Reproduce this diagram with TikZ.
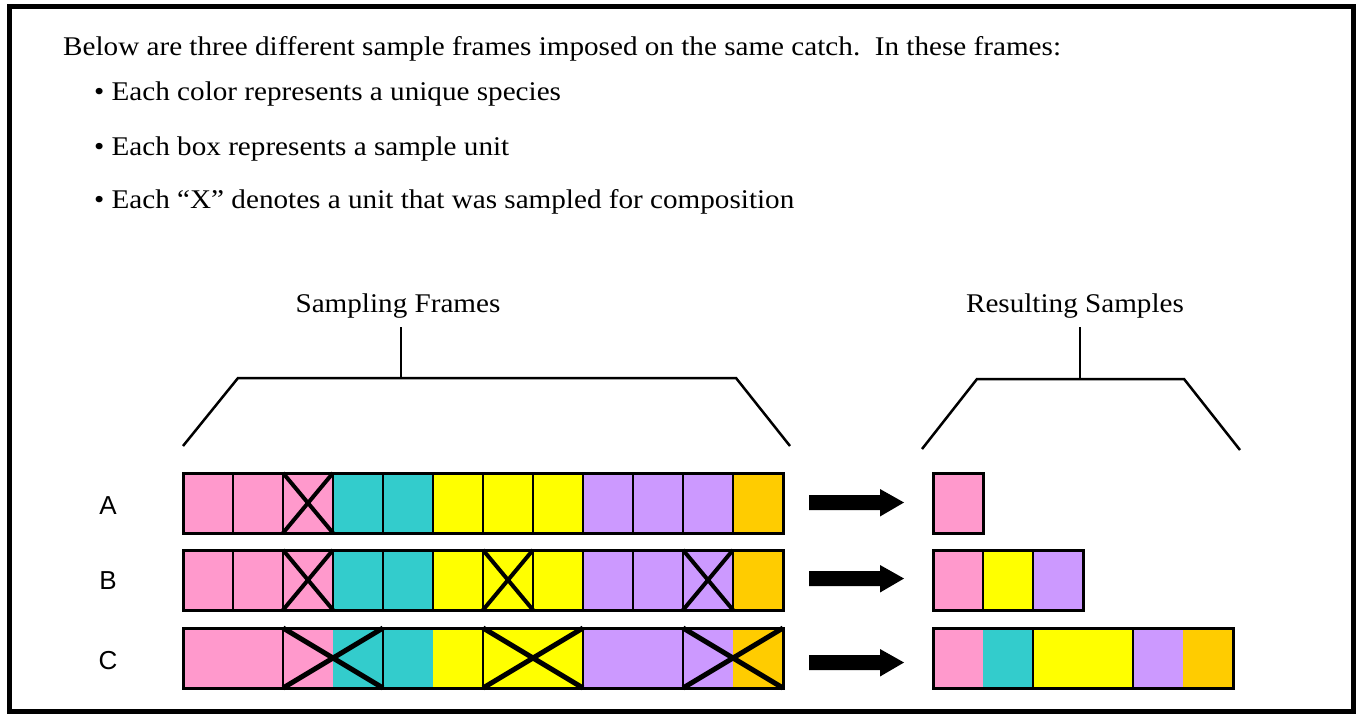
\documentclass[tikz,border=0pt]{standalone}
\usepackage{fontspec}
\setmainfont{Liberation Serif}[FakeStretch=1.08]
\newfontfamily\labfont{Liberation Sans}
\definecolor{cpink}{HTML}{FF99CC}
\definecolor{cteal}{HTML}{33CCCC}
\definecolor{cyel}{HTML}{FFFF00}
\definecolor{cpurp}{HTML}{CC99FF}
\definecolor{corange}{HTML}{FFCC00}
\tikzset{
  txt/.style={anchor=base west, inner sep=0pt, font=\fontsize{27}{30}\selectfont},
  ttl/.style={anchor=base, inner sep=0pt, font=\fontsize{27}{30}\selectfont},
  rowlab/.style={inner sep=0pt, font=\labfont\fontsize{26}{26}\selectfont},
  divider/.style={line width=2pt},
  outline/.style={line width=3pt},
  xmark/.style={line width=4pt},
  bigx/.style={line width=5pt},
  bracket/.style={line width=2.5pt},
  bigarrow/.style={fill=black}
}
\begin{document}
\begin{tikzpicture}[x=1pt,y=-1pt]
\useasboundingbox (0,0) rectangle (1356,713);
\draw[line width=5pt] (9.5,6.5) rectangle (1353.5,711);

% intro text
\node[txt] (intro) at (63,55) {Below are three different sample frames imposed on the same catch.\ \ In these frames:};
\node[txt] (b1) at (94,100) {\textbullet\ Each color represents a unique species};
\node[txt] (b2) at (94,155) {\textbullet\ Each box represents a sample unit};
\node[txt] (b3) at (94,208) {\textbullet\ Each “X” denotes a unit that was sampled for composition};

% titles and brackets
\node[ttl] (sf) at (398,312) {Sampling Frames};
\node[ttl] (rs) at (1075,312) {Resulting Samples};
\coordinate (sfa) at (183,446);
\coordinate (sfb) at (238,378);
\coordinate (sfc) at (736,378);
\coordinate (sfd) at (790,446);
\coordinate (sfm) at (401,378);
\coordinate (sft) at (401,327);
\draw[bracket] (sfa) -- (sfb) -- (sfc) -- (sfd);
\draw[bracket] (sfm) -- (sft);
\coordinate (rsa) at (922,449);
\coordinate (rsb) at (977,379);
\coordinate (rsc) at (1184,379);
\coordinate (rsd) at (1240,450);
\coordinate (rsm) at (1080,379);
\coordinate (rst) at (1080,327);
\draw[bracket] (rsa) -- (rsb) -- (rsc) -- (rsd);
\draw[bracket] (rsm) -- (rst);

% row labels
\node[rowlab] (labA) at (108,506) {A};
\node[rowlab] (labB) at (108,581) {B};
\node[rowlab] (labC) at (108,661) {C};

% Row A
\foreach \c [count=\i from 0] in {cpink,cpink,cpink,cteal,cteal,cyel,cyel,cyel,cpurp,cpurp,cpurp,corange}
  \fill[\c] (183+50*\i,473) rectangle ++(50,60);
\foreach \k in {1,...,11} \draw[divider] (183+50*\k,473) -- ++(0,60);
\draw[xmark] (283,473) -- (333,533) (283,533) -- (333,473);
\draw[outline] (183,473) rectangle (783,533);

% Row B
\foreach \c [count=\i from 0] in {cpink,cpink,cpink,cteal,cteal,cyel,cyel,cyel,cpurp,cpurp,cpurp,corange}
  \fill[\c] (183+50*\i,550) rectangle ++(50,60);
\foreach \k in {1,...,11} \draw[divider] (183+50*\k,550) -- ++(0,60);
\foreach \s in {283,483,683}
  \draw[xmark] (\s,550) -- (\s+50,610) (\s,610) -- (\s+50,550);
\draw[outline] (183,550) rectangle (783,610);

% Row C
\foreach \c [count=\i from 0] in {cpink,cpink,cpink,cteal,cteal,cyel,cyel,cyel,cpurp,cpurp,cpurp,corange}
  \fill[\c] (183+50*\i,628) rectangle ++(50,60);
\foreach \k in {283,383,483,583,683} \draw[divider] (\k,628) -- ++(0,60);
\foreach \s in {283,483,683}
  \draw[bigx] (\s,628) -- (\s+100,688) (\s,688) -- (\s+100,628);
\draw[outline] (183,628) rectangle (783,688);

% arrows
\foreach \yc in {502.5,578.5,662.5}
  \fill[bigarrow] (809,\yc-7.5) -- (880,\yc-7.5) -- (880,\yc-13.5) -- (904,\yc) -- (880,\yc+14) -- (880,\yc+7.5) -- (809,\yc+7.5) -- cycle;

% Results
\fill[cpink] (933,473) rectangle (983,533);
\draw[outline] (933,473) rectangle (983,533);

\fill[cpink] (933,550) rectangle (983,610);
\fill[cyel] (983,550) rectangle (1033,610);
\fill[cpurp] (1033,550) rectangle (1083,610);
\draw[divider] (983,550) -- (983,610) (1033,550) -- (1033,610);
\draw[outline] (933,550) rectangle (1083,610);

\fill[cpink] (933,628) rectangle (983,688);
\fill[cteal] (983,628) rectangle (1033,688);
\fill[cyel] (1033,628) rectangle (1133,688);
\fill[cpurp] (1133,628) rectangle (1183,688);
\fill[corange] (1183,628) rectangle (1233,688);
\draw[divider] (1033,628) -- (1033,688) (1133,628) -- (1133,688);
\draw[outline] (933,628) rectangle (1233,688);
\end{tikzpicture}
\end{document}
